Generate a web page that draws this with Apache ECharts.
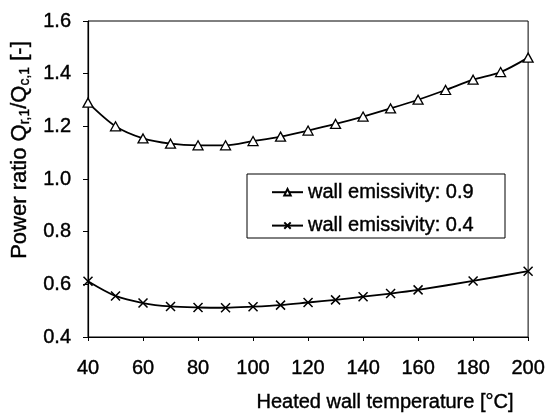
<!DOCTYPE html>
<html>
<head>
<meta charset="utf-8">
<script src="https://cdn.jsdelivr.net/npm/echarts@6/dist/echarts.min.js"></script>
<style>
  html, body { margin: 0; padding: 0; background: #fff; }
  #chart { width: 548px; height: 415px; }
</style>
</head>
<body>
<div id="chart"></div>
<script>
// Heated wall temperature [°C] and power ratio Qr,1/Qc,1 for two wall emissivities
const tempHigh = [40, 50, 60, 70, 80, 90, 100, 110, 120, 130, 140, 150, 160, 170, 180, 190, 200];
const ratioHigh = [1.29, 1.20, 1.154, 1.134, 1.128, 1.128, 1.144, 1.161, 1.184, 1.209, 1.237, 1.268, 1.301, 1.338, 1.377, 1.406, 1.461];
const tempLow = [40, 50, 60, 70, 80, 90, 100, 110, 120, 130, 140, 150, 160, 180, 200];
const ratioLow = [0.612, 0.556, 0.529, 0.516, 0.512, 0.511, 0.515, 0.521, 0.531, 0.541, 0.553, 0.565, 0.579, 0.613, 0.65];
const seriesNames = ['wall emissivity: 0.9', 'wall emissivity: 0.4'];
const xTicks = { min: 40, max: 200, step: 20 };
const yTicks = { min: 0.4, max: 1.6, step: 0.2 };

const FONT = '"Liberation Sans", Arial, sans-serif';
const TEXT_STROKE = { textBorderColor: '#000', textBorderWidth: 0.4 };
const pairs = (xs, ys) => xs.map((x, i) => [x, ys[i]]);
const crossPath = 'path://M0,0L10,10M10,0L0,10';

const chart = echarts.init(document.getElementById('chart'), null, { renderer: 'canvas' });

chart.setOption({
  animation: false,
  backgroundColor: '#fff',
  grid: {
    left: 88, right: 16, top: 21, bottom: 78,
    show: true, borderColor: '#000', borderWidth: 1, backgroundColor: 'transparent'
  },
  xAxis: {
    type: 'value', min: xTicks.min, max: xTicks.max, interval: xTicks.step,
    splitLine: { show: false },
    axisLine: { show: true, lineStyle: { color: '#000', width: 1.2 } },
    axisTick: { show: true, length: 4, lineStyle: { color: '#000', width: 1 } },
    axisLabel: Object.assign({ color: '#000', fontFamily: FONT, fontSize: 20, margin: 21 }, TEXT_STROKE)
  },
  yAxis: {
    type: 'value', min: yTicks.min, max: yTicks.max, interval: yTicks.step,
    splitLine: { show: false },
    axisLine: { show: true, lineStyle: { color: '#000', width: 1.2 } },
    axisTick: { show: true, length: 5, lineStyle: { color: '#000', width: 1 } },
    axisLabel: Object.assign({
      color: '#000', fontFamily: FONT, fontSize: 20, margin: 17,
      formatter: v => v.toFixed(1)
    }, TEXT_STROKE)
  },
  legend: {
    orient: 'vertical',
    left: 271, top: 182,
    padding: 0,
    itemWidth: 31, itemHeight: 8, itemGap: 13,
    textStyle: Object.assign({ color: '#000', fontFamily: FONT, fontSize: 20, lineHeight: 20 }, TEXT_STROKE),
    data: seriesNames
  },
  graphic: [
    {
      type: 'rect',
      shape: { x: 247, y: 174, width: 258, height: 64 },
      style: { fill: '#fff', stroke: '#000', lineWidth: 1 },
      silent: true
    },
    {
      type: 'text',
      x: 385, y: 402,
      style: {
        text: 'Heated wall temperature [°C]',
        fill: '#000', font: '20px ' + FONT,
        textAlign: 'center', textVerticalAlign: 'middle',
        stroke: '#000', lineWidth: 0.4
      }
    },
    {
      type: 'text',
      x: 20, y: 150,
      rotation: Math.PI / 2,
      style: {
        text: '{a|Power ratio Q}{s|r,1}{a|/Q}{s|c,1}{a| [-]}',
        textAlign: 'center', textVerticalAlign: 'middle',
        stroke: '#000', lineWidth: 0.4,
        rich: {
          a: { fontFamily: FONT, fontSize: 22, lineHeight: 23, fill: '#000', color: '#000' },
          s: { fontFamily: FONT, fontSize: 14, lineHeight: 14, padding: [10, 0, 0, 0], fill: '#000', color: '#000' }
        }
      }
    }
  ],
  series: [
    {
      name: seriesNames[0],
      type: 'line',
      data: pairs(tempHigh, ratioHigh),
      smooth: 0.3,
      symbol: 'triangle',
      symbolSize: [10, 9],
      lineStyle: { color: '#000', width: 1.8 },
      itemStyle: { color: '#fff', borderColor: '#000', borderWidth: 1.3 },
      z: 5
    },
    {
      name: seriesNames[1],
      type: 'line',
      data: pairs(tempLow, ratioLow),
      smooth: 0.3,
      symbol: crossPath,
      symbolSize: 9,
      lineStyle: { color: '#000', width: 1.8 },
      itemStyle: { color: '#000', borderColor: '#000', borderWidth: 1.5 },
      z: 5
    }
  ]
});
</script>
</body>
</html>
